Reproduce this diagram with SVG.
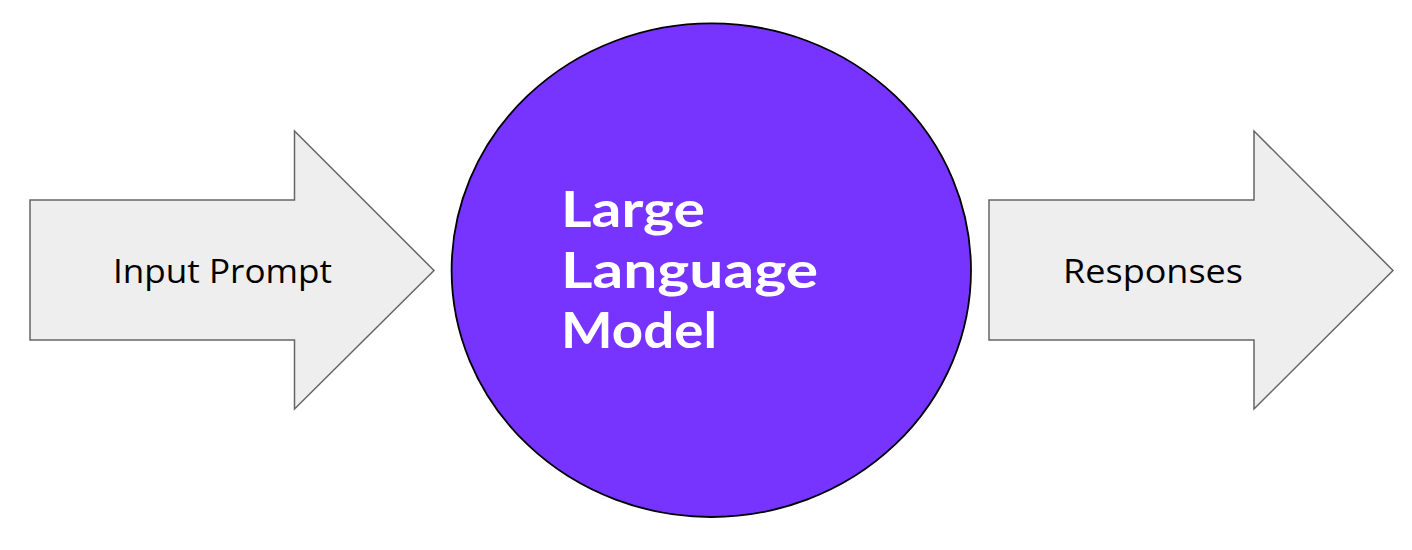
<svg xmlns="http://www.w3.org/2000/svg" width="1412" height="550" viewBox="0 0 1412 550">
<style>
.arrow{fill:#eeeeee;stroke:#666666;stroke-width:1.5;stroke-linejoin:miter}
.lbl{font-family:"Open Sans","Liberation Sans",sans-serif;font-size:32px;fill:#000000}
.big{font-family:Lato,"Open Sans","Liberation Sans",sans-serif;font-weight:bold;font-size:50px;fill:#ffffff}
</style>
<rect width="1412" height="550" fill="#ffffff"/>
<g id="input-prompt">
<polygon class="arrow" points="30,200 294.5,200 294.5,131 434,270.5 294.5,409 294.5,340 30,340"/>
<text class="lbl" x="113" y="283" textLength="219" lengthAdjust="spacingAndGlyphs">Input Prompt</text>
</g>
<g id="llm">
<ellipse cx="711.3" cy="270.2" rx="259.7" ry="246.8" fill="#7733ff" stroke="#000000" stroke-width="1.8"/>
<text class="big" x="561" y="227" textLength="144" lengthAdjust="spacingAndGlyphs">Large</text>
<text class="big" x="561" y="288" textLength="257" lengthAdjust="spacingAndGlyphs">Language</text>
<text class="big" x="561" y="348" textLength="156" lengthAdjust="spacingAndGlyphs">Model</text>
</g>
<g id="responses">
<polygon class="arrow" points="989,200 1254,200 1254,131 1393,270.5 1254,409 1254,340 989,340"/>
<text class="lbl" x="1063" y="283" textLength="180" lengthAdjust="spacingAndGlyphs">Responses</text>
</g>
<g id="connectors"></g>
</svg>
